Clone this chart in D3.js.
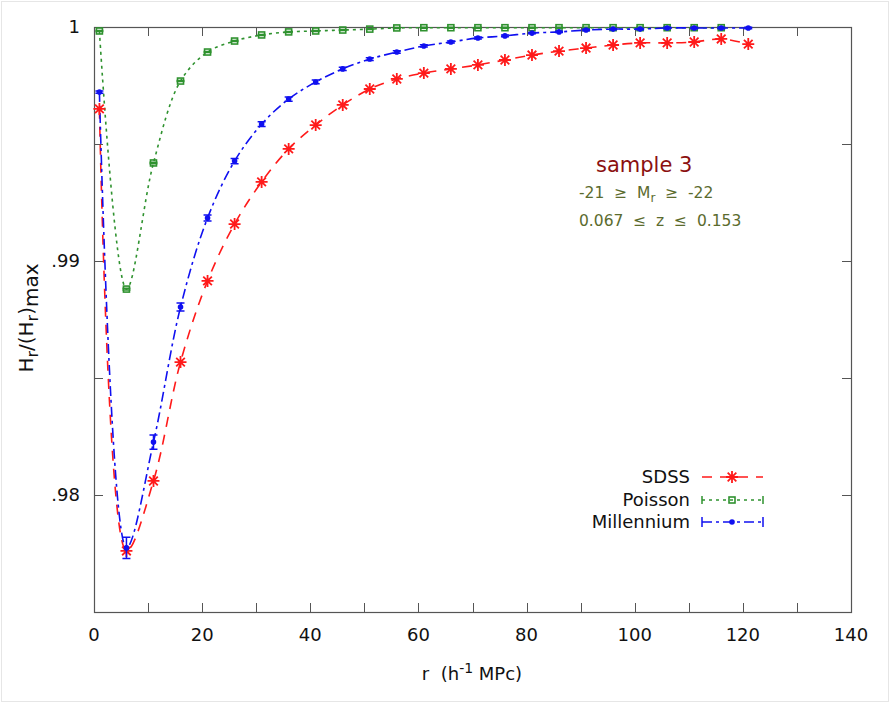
<!DOCTYPE html>
<html>
<head>
<meta charset="utf-8">
<script src="https://cdnjs.cloudflare.com/ajax/libs/d3/7.8.5/d3.min.js"></script>
<style>
  body { margin: 0; background: #fff; }
  text { font-family: "DejaVu Sans", sans-serif; white-space: pre; }
</style>
</head>
<body>
<svg id="chart" width="891" height="704"></svg>
<script>
'use strict';

// separation r (h^-1 MPc)
const rValues = [1, 6, 11, 16, 21, 26, 31, 36, 41, 46, 51, 56, 61, 66, 71, 76, 81, 86, 91, 96, 101, 106, 111, 116, 121];

const sdssValues = [0.99650, 0.97761, 0.98060, 0.98568, 0.98915, 0.99158, 0.99338, 0.99479, 0.99581, 0.99667,
    0.99735, 0.99778, 0.99803, 0.99821, 0.99838, 0.99859, 0.99880, 0.99897, 0.99910, 0.99923,
    0.99932, 0.99932, 0.99936, 0.99949, 0.99927];

const poissonValues = [0.99983, 0.98880, 0.99419, 0.99769, 0.99893, 0.99940, 0.99966, 0.99979, 0.99983, 0.99987,
    0.99991, 0.99996, 0.99997, 0.99997, 0.99997, 0.99997, 0.99997, 0.99997, 0.99997, 0.99997,
    0.99997, 0.99997, 0.99997, 0.99997];
const poissonErrors = [0.00002, 0.00004, 0.00003, 0.00002, 0.00002, 0.00002, 0.00002, 0.00002, 0.00002, 0.00002,
    0.00002, 0.00002, 0.00002, 0.00002, 0.00002, 0.00002, 0.00002, 0.00002, 0.00002, 0.00002,
    0.00002, 0.00002, 0.00002, 0.00002];

const millenniumValues = [0.99722, 0.97774, 0.98226, 0.98803, 0.99184, 0.99427, 0.99585, 0.99692, 0.99765, 0.99821,
    0.99863, 0.99893, 0.99919, 0.99936, 0.99953, 0.99962, 0.99974, 0.99979, 0.99987, 0.99991,
    0.99991, 0.99996, 0.99996, 0.99996, 0.99996];
const millenniumErrors = [0.00005, 0.00045, 0.00030, 0.00017, 0.00013, 0.00011, 0.00010, 0.00009, 0.00008, 0.00007,
    0.00006, 0.00005, 0.00005, 0.00004, 0.00004, 0.00004, 0.00003, 0.00003, 0.00003, 0.00003,
    0.00003, 0.00003, 0.00003, 0.00003, 0.00003];

const xTicks = [0, 20, 40, 60, 80, 100, 120, 140];
const xMinorTicks = [10, 30, 50, 70, 90, 110, 130];
const yTicks = [1, 0.99, 0.98];
const yTickLabels = ['1', '.99', '.98'];
const yMinorTicks = [0.995, 0.985];

const legendNames = ['SDSS', 'Poisson', 'Millennium'];

const svg = d3.select('#chart');
const plotLeft = 94, plotRight = 851, plotTop = 27, plotBottom = 612;

const x = d3.scaleLinear().domain([0, 140]).range([plotLeft, plotRight]);
const y = d3.scaleLinear().domain([0.975, 1]).range([plotBottom, plotTop]);

// faint outer frame
svg.append('rect')
    .attr('x', 1.5).attr('y', 1.5).attr('width', 887).attr('height', 700)
    .attr('fill', 'none').attr('stroke', '#e6e6e6');

svg.append('defs').append('clipPath').attr('id', 'plot-clip')
    .append('rect')
    .attr('x', plotLeft).attr('y', plotTop - 1)
    .attr('width', plotRight - plotLeft).attr('height', plotBottom - plotTop + 1);

// ticks, mirrored on all four sides
const tickLen = 9;
const axisColor = '#555';
const allX = xTicks.concat(xMinorTicks).filter(v => v > 0 && v < 140);
const allY = yTicks.concat(yMinorTicks).filter(v => v > 0.975 && v < 1);

const ticks = svg.append('g').attr('stroke', axisColor).attr('stroke-width', 1);
allX.forEach((v) => {
    const px = Math.round(x(v)) + 0.5;
    ticks.append('line').attr('x1', px).attr('x2', px).attr('y1', plotBottom).attr('y2', plotBottom - tickLen);
    ticks.append('line').attr('x1', px).attr('x2', px).attr('y1', plotTop).attr('y2', plotTop + tickLen);
});
allY.forEach((v) => {
    const py = Math.round(y(v)) + 0.5;
    ticks.append('line').attr('x1', plotLeft).attr('x2', plotLeft + tickLen).attr('y1', py).attr('y2', py);
    ticks.append('line').attr('x1', plotRight).attr('x2', plotRight - tickLen).attr('y1', py).attr('y2', py);
});

svg.append('rect')
    .attr('x', plotLeft + 0.5).attr('y', plotTop + 0.5)
    .attr('width', plotRight - plotLeft).attr('height', plotBottom - plotTop)
    .attr('fill', 'none').attr('stroke', axisColor).attr('stroke-width', 1.2);

// tick labels
svg.append('g').selectAll('text')
    .data(xTicks)
    .enter().append('text')
    .attr('x', d => x(d))
    .attr('y', 641)
    .attr('text-anchor', 'middle')
    .attr('font-size', 18)
    .attr('fill', '#111')
    .text(d => d);

svg.append('g').selectAll('text')
    .data(yTicks)
    .enter().append('text')
    .attr('x', 80)
    .attr('y', d => y(d) + 6)
    .attr('text-anchor', 'end')
    .attr('font-size', 18)
    .attr('fill', '#111')
    .text((d, i) => yTickLabels[i]);

// axis titles
const xTitle = svg.append('text')
    .attr('x', 472).attr('y', 680)
    .attr('text-anchor', 'middle')
    .attr('font-size', 18)
    .attr('fill', '#111');
xTitle.append('tspan').text('r  (h');
xTitle.append('tspan').attr('font-size', 14).attr('dy', -7).text('-1');
xTitle.append('tspan').attr('dy', 7).text(' MPc)');

const yTitle = svg.append('text')
    .attr('transform', 'translate(33,318) rotate(-90)')
    .attr('text-anchor', 'middle')
    .attr('font-size', 20)
    .attr('fill', '#111');
yTitle.append('tspan').text('H');
yTitle.append('tspan').attr('font-size', 16).attr('dy', 5).text('r');
yTitle.append('tspan').attr('dy', -5).text('/(H');
yTitle.append('tspan').attr('font-size', 16).attr('dy', 5).text('r');
yTitle.append('tspan').attr('dy', -5).text(')');
yTitle.append('tspan').attr('dy', 5).text('max');

// annotation
svg.append('text')
    .attr('x', 596).attr('y', 172)
    .attr('font-size', 21)
    .attr('fill', '#8b1010')
    .text('sample 3');

const magText = svg.append('text')
    .attr('x', 579).attr('y', 198)
    .attr('font-size', 15.5)
    .attr('fill', '#5b6b2e');
magText.append('tspan').text('-21  \u2265  M');
magText.append('tspan').attr('font-size', 12).attr('dy', 4).text('r');
magText.append('tspan').attr('dy', -4).text('  \u2265  -22');

svg.append('text')
    .attr('x', 579).attr('y', 226)
    .attr('font-size', 15.5)
    .attr('fill', '#5b6b2e')
    .text('0.067  \u2264  z  \u2264  0.153');

// series
const series = [
    { name: legendNames[0], values: sdssValues, errors: null, color: '#ff1a1a', dash: '10,8', marker: 'star' },
    { name: legendNames[1], values: poissonValues, errors: poissonErrors, color: '#2f922f', dash: '3,4', marker: 'square' },
    { name: legendNames[2], values: millenniumValues, errors: millenniumErrors, color: '#1010f0', dash: '10,4,3,4', marker: 'dot' }
];

const line = d3.line()
    .x(d => x(d[0]))
    .y(d => y(d[1]))
    .curve(d3.curveCatmullRom.alpha(0.5));

function drawMarker(g, type, cx, cy, color) {
    if (type === 'star') {
        const s = 6;
        g.append('path')
            .attr('d', `M${cx - s},${cy}H${cx + s}M${cx},${cy - s}V${cy + s}` +
                `M${cx - s * 0.72},${cy - s * 0.72}L${cx + s * 0.72},${cy + s * 0.72}` +
                `M${cx - s * 0.72},${cy + s * 0.72}L${cx + s * 0.72},${cy - s * 0.72}`)
            .attr('stroke', color).attr('stroke-width', 1.8).attr('fill', 'none');
    } else if (type === 'square') {
        g.append('rect')
            .attr('x', cx - 3).attr('y', cy - 3).attr('width', 6).attr('height', 6)
            .attr('fill', 'none').attr('stroke', color).attr('stroke-width', 1.6);
    } else {
        g.append('circle')
            .attr('cx', cx).attr('cy', cy).attr('r', 2.8)
            .attr('fill', color);
    }
}

const plot = svg.append('g').attr('clip-path', 'url(#plot-clip)');

series.forEach((s) => {
    const pts = s.values.map((v, i) => [rValues[i], v]);
    plot.append('path')
        .datum(pts)
        .attr('d', line)
        .attr('fill', 'none')
        .attr('stroke', s.color)
        .attr('stroke-width', 1.6)
        .attr('stroke-dasharray', s.dash);
});

const marks = svg.append('g');
series.forEach((s) => {
    s.values.forEach((v, i) => {
        const cx = x(rValues[i]);
        const cy = y(v);
        if (s.errors) {
            const e = s.errors[i];
            const y1 = y(v - e), y2 = Math.max(y(v + e), plotTop);
            marks.append('path')
                .attr('d', `M${cx},${y1}V${y2}M${cx - 4},${y1}H${cx + 4}M${cx - 4},${y2}H${cx + 4}`)
                .attr('stroke', s.color).attr('stroke-width', 1.5).attr('fill', 'none');
        }
        drawMarker(marks, s.marker, cx, cy, s.color);
    });
});

// legend
const legendRows = [477, 500, 522];
const legend = svg.append('g');
series.forEach((s, i) => {
    const ly = legendRows[i];
    legend.append('text')
        .attr('x', 690).attr('y', ly + 6)
        .attr('text-anchor', 'end')
        .attr('font-size', 18)
        .attr('fill', '#111')
        .text(s.name);
    legend.append('line')
        .attr('x1', 702).attr('x2', 763).attr('y1', ly).attr('y2', ly)
        .attr('stroke', s.color).attr('stroke-width', 1.6)
        .attr('stroke-dasharray', s.dash);
    if (s.errors) {
        const h = i === 1 ? 4 : 5;
        legend.append('path')
            .attr('d', `M702,${ly - h}V${ly + h}M763,${ly - h}V${ly + h}`)
            .attr('stroke', s.color).attr('stroke-width', 1.5);
    }
    drawMarker(legend, s.marker, 732, ly, s.color);
});
</script>
</body>
</html>
